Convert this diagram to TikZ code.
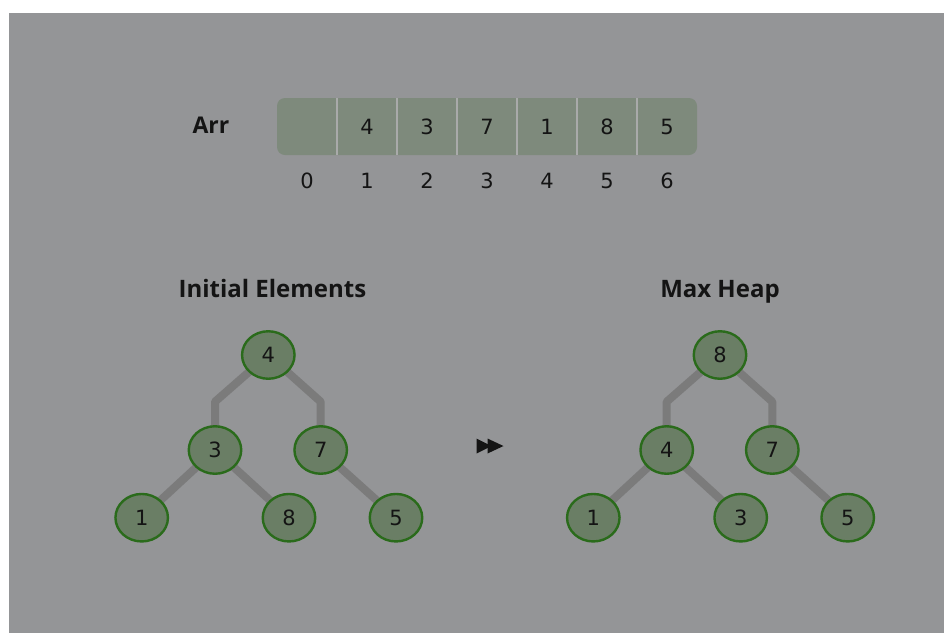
\documentclass[tikz,border=0pt]{standalone}
\usepackage{fontspec}
\newfontfamily\titlefont{Open Sans}
\newfontfamily\digitfont{DejaVu Sans}
\usetikzlibrary{shapes.geometric}

\definecolor{canvas}{HTML}{949597}
\definecolor{cellfill}{HTML}{7E8A7C}
\definecolor{cellsep}{HTML}{A9AAAA}
\definecolor{nodefill}{HTML}{6A7E65}
\definecolor{nodeline}{HTML}{2A6B1B}
\definecolor{edgecol}{HTML}{7B7B7B}
\definecolor{ink}{HTML}{141414}

\pgfdeclarelayer{backdrop}
\pgfdeclarelayer{links}
\pgfsetlayers{backdrop,links,main}

\tikzset{
  digit/.style={text=ink, font=\digitfont\fontsize{21}{21}\selectfont},
  heading/.style={text=ink, anchor=base, font=\titlefont\bfseries\fontsize{24}{24}\selectfont},
  heapnode/.style={ellipse, draw=nodeline, fill=nodefill, line width=2.4pt,
    minimum width=52.5pt, minimum height=47.5pt, inner sep=0pt, digit},
  cell/.style={minimum width=60pt, minimum height=56pt, inner sep=0pt, digit},
  sepline/.style={draw=cellsep, line width=2pt},
  link/.style={draw=edgecol, line width=8pt, line join=round},
}

\begin{document}
\begin{tikzpicture}[x=1pt, y=-1pt]
\useasboundingbox (0,0) rectangle (944,633);

\begin{pgfonlayer}{backdrop}
  \fill[white] (0,0) rectangle (944,633);
  \fill[canvas] (9,13) rectangle (944,633);
\end{pgfonlayer}

% ---------- array ----------
\node[heading, font=\titlefont\bfseries\fontsize{23}{23}\selectfont] (arrlabel) at (211,133) {Arr};
\fill[cellfill, rounded corners=8pt] (277,98) rectangle (697,155);
\foreach \v [count=\k from 0] in {{},4,3,7,1,8,5} {
  \node[cell] (c\k) at ({307+60*\k},126.5) {\v};
  \node[digit] (i\k) at ({307+60*\k},181) {\k};
}
\foreach \k in {0,...,5} {
  \draw[sepline] (c\k.north east) -- (c\k.south east);
}

% ---------- headings ----------
\node[heading] (tinit) at (272.5,297) {Initial Elements};
\node[heading] (tmax) at (720,297) {Max Heap};

% ---------- initial tree ----------
\node[heapnode] (a4) at (268.3,355) {4};
\node[heapnode] (a3) at (215,450) {3};
\node[heapnode] (a7) at (320.7,450) {7};
\node[heapnode] (a1) at (141.7,517.7) {1};
\node[heapnode] (a8) at (289,517.7) {8};
\node[heapnode] (a5) at (396,517.7) {5};
\coordinate (abl) at (215,401.7);
\coordinate (abr) at (320.7,401.7);

% ---------- max heap ----------
\node[heapnode] (b8) at (720,355) {8};
\node[heapnode] (b4) at (666.7,450) {4};
\node[heapnode] (b7) at (772.3,450) {7};
\node[heapnode] (b1) at (593.3,517.7) {1};
\node[heapnode] (b3) at (740.7,517.7) {3};
\node[heapnode] (b5) at (847.7,517.7) {5};
\coordinate (bbl) at (666.7,401.7);
\coordinate (bbr) at (772.3,401.7);

\begin{pgfonlayer}{links}
  \draw[link] (a4.center) -- (abl) -- (a3.center);
  \draw[link] (a4.center) -- (abr) -- (a7.center);
  \draw[link] (a3.center) -- (a1.center);
  \draw[link] (a3.center) -- (a8.center);
  \draw[link] (a7.center) -- (a5.center);
  \draw[link] (b8.center) -- (bbl) -- (b4.center);
  \draw[link] (b8.center) -- (bbr) -- (b7.center);
  \draw[link] (b4.center) -- (b1.center);
  \draw[link] (b4.center) -- (b3.center);
  \draw[link] (b7.center) -- (b5.center);
\end{pgfonlayer}

% ---------- fast-forward mark ----------
\coordinate (ff) at (490,446);
\fill[ink] ([xshift=-13.5pt,yshift=-7.5pt]ff) -- ([xshift=1.5pt]ff) -- ([xshift=-13.5pt,yshift=7.5pt]ff) -- cycle;
\fill[ink] ([xshift=-2.5pt,yshift=-7.5pt]ff) -- ([xshift=13.5pt]ff) -- ([xshift=-2.5pt,yshift=7.5pt]ff) -- cycle;
\end{tikzpicture}
\end{document}
